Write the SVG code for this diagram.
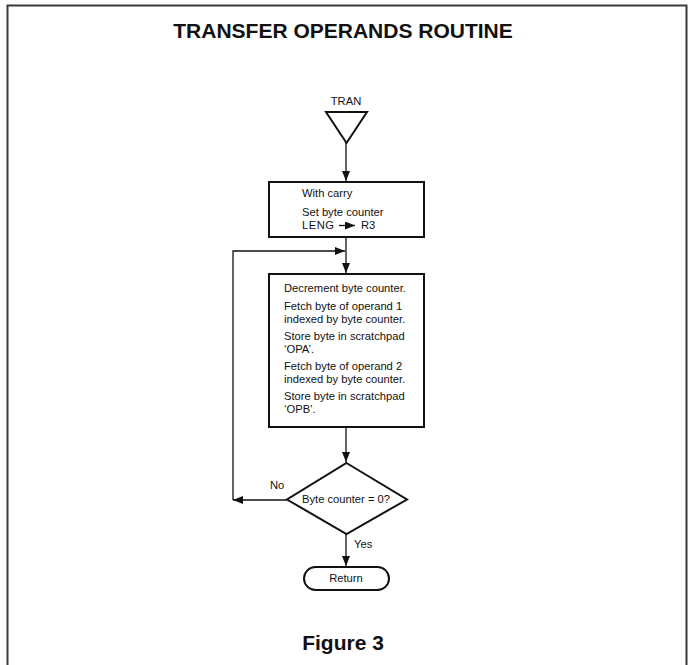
<svg xmlns="http://www.w3.org/2000/svg" width="688" height="665" viewBox="0 0 688 665">
  <style>
    .frame { fill: none; stroke: #3a3a3a; stroke-width: 2; }
    .shape { fill: #fff; stroke: #111; stroke-width: 2; }
    .wire { fill: none; stroke: #111; stroke-width: 1.3; }
    .title { font-family: "Liberation Sans", Arial, sans-serif; font-weight: bold; font-size: 21px; fill: #111; text-anchor: middle; }
    .lbl { font-family: "Liberation Sans", Arial, sans-serif; font-size: 11.2px; fill: #111; }
    .mid { text-anchor: middle; }
  </style>
  <defs>
    <marker id="arr" viewBox="0 0 10 8" refX="10" refY="4" markerWidth="10" markerHeight="8" markerUnits="userSpaceOnUse" orient="auto">
      <path d="M0,0 L10,4 L0,8 Z" fill="#111"/>
    </marker>
  </defs>

  <rect width="688" height="665" fill="#fff"/>
  <!-- page frame, open at the bottom edge -->
  <path class="frame" d="M7.5,670 V5.5 H686.5 V670"/>

  <text class="title" x="343" y="38">TRANSFER OPERANDS ROUTINE</text>

  <g id="connectors">
    <path class="wire" d="M346,143 V181" marker-end="url(#arr)"/>
    <path class="wire" d="M346,237 V273" marker-end="url(#arr)"/>
    <path class="wire" d="M346,427 V462" marker-end="url(#arr)"/>
    <path class="wire" d="M287,500 H233" marker-end="url(#arr)"/>
    <path class="wire" d="M233,500 V251 H345" marker-end="url(#arr)"/>
    <path class="wire" d="M346,534 V566" marker-end="url(#arr)"/>
    <text class="lbl" x="270" y="489">No</text>
    <text class="lbl" x="354" y="548">Yes</text>
  </g>

  <g id="tran">
    <text class="lbl mid" x="346" y="105">TRAN</text>
    <path class="shape" d="M326,112 H367 L346.5,143 Z"/>
  </g>

  <g id="setup">
    <rect class="shape" x="269" y="182" width="155" height="55"/>
    <text class="lbl" x="302" y="197">With carry</text>
    <text class="lbl" x="302" y="216">Set byte counter</text>
    <text class="lbl" x="302" y="229" letter-spacing="0.5">LENG</text>
    <path class="wire" d="M339,225.5 H355" marker-end="url(#arr)"/>
    <text class="lbl" x="361" y="229">R3</text>
  </g>

  <g id="transfer">
    <rect class="shape" x="269" y="274" width="155" height="153"/>
    <text class="lbl" x="284" y="292">Decrement byte counter.</text>
    <text class="lbl" x="284" y="310">Fetch byte of operand 1</text>
    <text class="lbl" x="284" y="323">indexed by byte counter.</text>
    <text class="lbl" x="284" y="340">Store byte in scratchpad</text>
    <text class="lbl" x="284" y="353">‘OPA’.</text>
    <text class="lbl" x="284" y="370">Fetch byte of operand 2</text>
    <text class="lbl" x="284" y="383">indexed by byte counter.</text>
    <text class="lbl" x="284" y="400">Store byte in scratchpad</text>
    <text class="lbl" x="284" y="413">‘OPB’.</text>
  </g>

  <g id="test">
    <path class="shape" d="M346.5,463 L407,499.5 L346.5,534 L287,499.5 Z"/>
    <text class="lbl mid" x="346" y="503">Byte counter = 0?</text>
  </g>

  <g id="return">
    <rect class="shape" x="304" y="567" width="85" height="23" rx="11.5" ry="11.5"/>
    <text class="lbl mid" x="346" y="582">Return</text>
  </g>

  <text class="title" x="343" y="650">Figure 3</text>
</svg>
